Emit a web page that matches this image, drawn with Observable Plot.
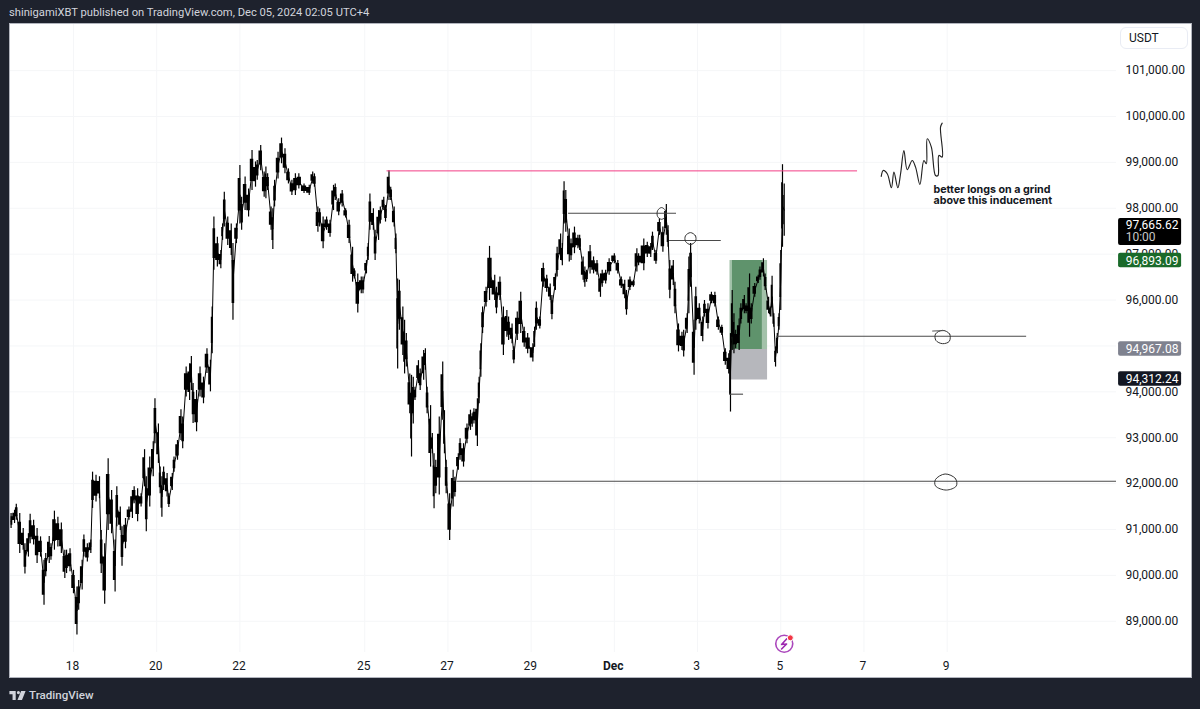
<!DOCTYPE html>
<html><head><meta charset="utf-8">
<script src="https://cdn.jsdelivr.net/npm/d3@7"></script>
<script src="https://cdn.jsdelivr.net/npm/@observablehq/plot@0.6"></script>
<style>
html,body{margin:0;padding:0;background:#1e222d;width:1200px;height:709px;overflow:hidden;font-family:Roboto,"Noto Sans",sans-serif}
#head{position:absolute;left:9px;top:6px;font-size:11.2px;line-height:14px;color:#d1d4dc;white-space:nowrap}
#chart{position:absolute;left:9px;top:23px;width:1183px;height:655px}
#chart svg{display:block;background:#fff;outline:1px solid #b2b5be;outline-offset:-1px}
#unit{position:absolute;left:1120px;top:27px;width:68px;height:22px;box-sizing:border-box;border:1px solid #e9ecf4;border-radius:6px;font-size:12px;line-height:20px;color:#131722;padding-left:8px;background:#fff}
#foot{position:absolute;left:9px;top:687px;height:16px;display:flex;align-items:center;gap:3px;font-size:11.6px;font-weight:500;color:#d1d4dc}
</style></head><body>
<div id="head">shinigamiXBT published on TradingView.com, Dec 05, 2024 02:05 UTC+4</div>
<div id="chart"></div>
<div id="unit">USDT</div>
<div id="foot"><svg width="17" height="9" viewBox="0 0 36 20"><path fill="#d1d4dc" d="M0 0h14v20H7V7H0zM20 0a3.5 3.5 0 1 1 0 7 3.5 3.5 0 0 1 0-7zM26 0h10l-8 20H18z"/></svg><span>TradingView</span></div>
<script>
const startDay = 16.5;
const hours = [0,2,3,5,7,8,10,11,13,15,17,19,20,22,23,25,27,29,31,32,34,36,38,39,41,42,44,46,47,49,51,52,54,56,58,60,61,63,64,66,68,70,71,73,75,77,78,80,82,83,85,86,87,88,90,91,93,94,96,98,99,101,103,104,105,107,109,111,113,115,116,117,119,121,122,123,125,127,128,130,132,133,135,137,139,141,142,144,146,147,148,150,151,152,154,156,158,160,162,164,166,169,172,174,175,177,178,180,182,184,186,187,189,191,193,195,197,198,200,202,203,205,206,207,209,210,212,213,215,216,218,219,221,222,223,224,
226,227,228,230,231,232,233,235,236,238,239,240,242,243,244,245,247,249,250,251,253,255,256,258,259,261,263,265,266,267,269,270,271,272,274,276,279,280,282,284,286,287,289,290,292,294,296,298,301,302,303,305,307,
309,311,312,314,315,317,318,319,320,322,323,325,327,328,330,331,332,334,336,338,340,341,343,345,348,350,352,354,355,357,359,361,362,365,367,369,370,372,374,376,378,379,380,382,383,385,387,388,390,391,392,394,395,397,399,400,402,404,406,408,410,412,414,415,416,417,418,420,421,423,424,426,427,429,431,432,434,435,437,438,439,440,441,442,443,444,445,446];
const highs = [91350,91420,91550,91350,91020,90690,90910,91330,91200,91020,90840,90330,90480,90850,90690,91400,91270,91140,90550,90550,90580,90110,89750,89890,90330,90880,90690,90770,92250,92180,92150,90980,90690,92540,91850,90770,91930,91490,91060,91240,91490,91850,91930,91890,91780,92740,92150,92580,92910,93850,93300,92360,92150,92360,92220,91780,92220,92580,92940,93610,93450,94540,94610,94770,94180,94030,94540,94320,94940,94690,95850,97810,97370,97080,97660,98350,97810,97660,97230,97660,98930,98240,98680,98420,99260,99010,99040,99370,98790,98900,98750,98030,97990,98610,99220,99530,99300,98860,98610,98750,98750,98530,98500,98790,98750,98030,97990,97810,97810,97740,98500,98530,98210,98390,97990,97740,97150,96680,96570,96500,96500,96860,97230,98310,97990,97520,97950,98030,98240,98060,98820,98460,98030,97440,96460,96430,
95850,95560,95270,94390,94360,94320,94100,94680,94500,94900,94940,94100,93700,93090,92650,92510,93450,94650,93590,92510,91780,92290,92140,92650,92980,92870,93300,93600,93520,93630,93850,94320,95050,95850,96280,97170,96540,96280,96500,95850,95770,95630,95480,94980,95740,96170,95410,95270,95050,95410,95960,95630,96800,
96540,96350,96100,96570,97150,97440,97230,98580,98390,97550,97330,97590,97410,97410,96940,96720,96650,97190,96940,96860,96570,96650,96650,96900,97010,96860,96500,96430,96210,96500,96430,97120,97010,97330,97260,97230,97480,97080,97770,97590,98080,97620,96860,96860,96390,95480,95300,95340,95700,96940,97230,95560,96280,95920,95630,95990,95920,96170,96170,95630,95450,94940,94830,95270,96210,95700,95340,95590,95920,96100,95920,96570,95920,96360,96540,96720,96900,96570,96060,95850,96520,95700,94980,95270,95700,97080,98950,98530];
const lows = [91020,91130,91200,90480,90550,90030,90400,90690,90660,90260,90400,89350,89970,90260,90330,90550,90620,90480,89930,90040,90080,89600,88700,89240,89680,90400,90290,90480,91460,91600,91670,90040,89370,90980,90910,89640,91060,90980,90200,90580,91200,91240,91560,91170,91490,91930,90950,91490,92150,92870,92440,91780,91270,91850,91710,91480,91850,92250,92510,92940,92760,93890,93810,94030,93310,93130,93890,93740,94400,94000,94830,96650,96720,96680,97300,97590,97190,96970,95560,97230,97660,97520,97950,97810,98390,98460,98610,98820,98240,98210,98390,97520,97100,98030,98640,98970,98750,98530,98280,98280,98420,98320,98280,98530,98460,97480,97590,97120,97520,97370,97950,98170,97840,98030,97790,97230,96390,96460,95720,96140,96140,96570,96860,97520,97520,96860,97300,97660,97950,97700,98170,98170,97590,97010,94500,95340,
94790,94390,94540,93520,92580,93300,93810,94180,94030,94250,94470,93520,92360,92650,91450,91780,91750,93380,92650,91780,90760,91490,91710,92290,92510,92360,92870,93160,93230,93300,92810,93740,94320,95270,95850,95990,95990,95700,95990,94790,95190,95120,95050,94610,95120,95270,94970,94830,94650,94970,95340,95370,96280,
96170,95990,95570,96210,96500,96860,96750,97660,97480,96830,96860,97010,97120,97080,96430,96280,96390,96570,96570,96540,96060,96280,96350,96540,96790,96570,96250,96030,95670,96210,96280,96610,96750,96640,96930,96930,97080,96780,97410,97040,97410,97150,96030,96320,95700,94870,94900,94760,95270,95700,96280,94360,95340,95480,95090,95630,95370,95920,95850,95340,95230,94580,94390,93560,94900,94830,94940,94900,95480,95700,95700,95190,95480,96060,96360,96430,96500,96210,95700,95630,95630,95410,94540,94830,95340,95770,97150,97390];

const dayTicks = [18,20,22,25,27,29,33,35,37,39];
const dayLabels = ["18","20","22","25","27","29","3","5","7","9"];
const monthTick = 31;
const monthLabel = "Dec";
const priceTicks = [89000,90000,91000,92000,93000,94000,95000,96000,97000,98000,99000,100000,101000];
const hiddenPriceLabel = 95000;

const resistance = [{d1:25.536,d2:36.846,price:98815}];
const levelD1 = [29.90,32.327,33.77,34.90,27.22];
const levelD2 = [32.495,33.57,34.106,40.91,43.07];
const levelPrice = [97893,97298,93949,95213,92053];

const circleA = [[32.135,98016],[32.23,97950],[32.23,97820],[32.135,97760],[32.04,97820],[32.04,97950]];
const circleB = [[32.83,97470],[32.95,97400],[32.95,97280],[32.83,97210],[32.71,97280],[32.71,97400]];
const circleC = [[38.89,95340],[39.06,95260],[39.05,95100],[38.89,95050],[38.73,95120],[38.72,95260]];
const circleD = [[38.95,92210],[39.2,92110],[39.22,91950],[38.98,91860],[38.72,91950],[38.72,92090]];
const tickStroke = [[38.65,95325],[38.94,95335]];
const squiggle = [[37.415,98694],[37.463,98824],[37.56,98752],[37.66,98447],[37.72,98788],[37.815,98447],[37.88,98752],[37.96,99260],[38.04,98839],[38.16,99042],[38.24,98897],[38.345,98519],[38.44,99042],[38.50,98970],[38.52,99514],[38.62,99332],[38.72,98715],[38.78,98715],[38.80,99151],[38.88,99115],[38.84,99768],[38.88,99855]];
const noteLines = ["better longs on a grind","above this inducement"];
const notePrices = [98409,98170];

const tagValues = [97665.62,96893.09,94967.08,94312.24];
const tagFills = ["#000000","#1a6a2a","#7f828f","#131722"];
const bolt = [[35.14,88615],[35.02,88495],[35.14,88506],[35.02,88397]];

const day = d => new Date(Date.UTC(2024,10,1) + (d-1)*864e5);
const bars = hours.map((h,i)=>({t:day(startDay+h/24),hi:highs[i],lo:lows[i]}));
const pts = a => a.map(([d,p])=>({t:day(d),p}));
const ring = (a,color="#333",w=1)=>Plot.line(pts(a),{x:"t",y:"p",stroke:color,strokeWidth:w,curve:"catmull-rom-closed"});
const levels = levelPrice.map((p,i)=>({t1:day(levelD1[i]),t2:day(levelD2[i]),p}));

const chart = Plot.plot({
  width:1183,height:655,
  marginLeft:1,marginRight:76,marginTop:1,marginBottom:26,
  style:{fontFamily:"Roboto, 'Noto Sans', sans-serif",fontSize:"12px",color:"#131722",background:"#fff",overflow:"visible"},
  x:{type:"utc",domain:[day(16.486),day(43.07)]},
  y:{domain:[88320,102005]},
  marks:[
    Plot.gridX(dayTicks.concat(monthTick).map(day),{stroke:"#f5f6f8",strokeOpacity:1}),
    Plot.gridY(priceTicks,{stroke:"#f5f6f8",strokeOpacity:1}),
    Plot.axisX(dayTicks.map(day),{tickSize:0,tickPadding:9,dx:-1,label:null,tickFormat:d=>dayLabels[dayTicks.indexOf(Math.round(+d/864e5-Date.UTC(2024,10,1)/864e5+1))],fill:"#131722",fontSize:12}),
    Plot.axisX([day(monthTick)],{tickSize:0,tickPadding:9,dx:-1,label:null,tickFormat:()=>monthLabel,fontWeight:700,fill:"#131722",fontSize:12}),
    Plot.axisY(priceTicks.filter(p=>p!==hiddenPriceLabel),{anchor:"right",tickSize:0,tickPadding:9,label:null,tickFormat:d3.format(",.2f"),fill:"#131722",fontSize:12}),
    Plot.rect([0],{x1:()=>day(33.78),x2:()=>day(34.683),y1:()=>94923,y2:()=>94258,fill:"#b6b7bc"}),
    Plot.rect([0],{x1:()=>day(33.78),x2:()=>day(34.683),y1:()=>94923,y2:()=>96862,fill:"#a3c2aa"}),
    Plot.rect([0],{x1:()=>day(33.84),x2:()=>day(34.557),y1:()=>94923,y2:()=>96862,fill:"#5f936c"}),
    Plot.areaY(bars,{x:"t",y1:d=>d.lo+(d.hi-d.lo)*.22,y2:d=>d.hi-(d.hi-d.lo)*.22,fill:"#000",curve:"step"}),
    Plot.line(bars,{x:"t",y:d=>(d.hi+d.lo)/2,stroke:"#000",strokeWidth:1}),
    Plot.ruleX(bars,{x:"t",y1:"lo",y2:"hi",stroke:"#000",strokeWidth:1.2}),
    Plot.ruleY(resistance,{x1:d=>day(d.d1),x2:d=>day(d.d2),y:"price",stroke:"#f23d85",strokeWidth:1}),
    Plot.ruleY(levels,{x1:"t1",x2:"t2",y:"p",stroke:"#4a4a4a",strokeWidth:1.1}),
    ring(circleA),ring(circleB),ring(circleC),ring(circleD),
    Plot.line(pts(tickStroke),{x:"t",y:"p",stroke:"#555",strokeWidth:1}),
    Plot.line(pts(squiggle),{x:"t",y:"p",stroke:"#222",strokeWidth:1.15,curve:"catmull-rom"}),
    Plot.text(noteLines,{x:()=>day(38.67),y:(d,i)=>notePrices[i],text:d=>d,textAnchor:"start",fontFamily:"Inter",fontWeight:700,fontSize:10.7,fill:"#131722"}),
    Plot.rect(tagValues,{x1:()=>day(43.12),x2:()=>day(44.635),y1:(d,i)=>i==0?d+111:d+125,y2:(d,i)=>i==0?d-476:d-190,fill:(d,i)=>tagFills[i],rx:2}),
    Plot.text(tagValues,{x:()=>day(43.29),y:d=>d,dy:2,text:d=>d3.format(",.2f")(d),textAnchor:"start",fill:"#fff",fontSize:12}),
    Plot.text(["10:00"],{x:()=>day(43.29),y:()=>tagValues[0],dy:14,text:d=>d,textAnchor:"start",fill:"#c8c8c8",fontSize:12}),
    Plot.dot([0],{x:()=>day(35.084),y:()=>88510,r:8.5,stroke:"#ab47bc",strokeWidth:1.6,fill:"none"}),
    Plot.line(pts(bolt),{x:"t",y:"p",stroke:"#9c27b0",strokeWidth:1.6}),
    Plot.dot([0],{x:()=>day(35.23),y:()=>88640,r:3,fill:"#f23645",stroke:"#fff",strokeWidth:1})
  ]
});
document.getElementById("chart").appendChild(chart);
</script>
</body></html>
